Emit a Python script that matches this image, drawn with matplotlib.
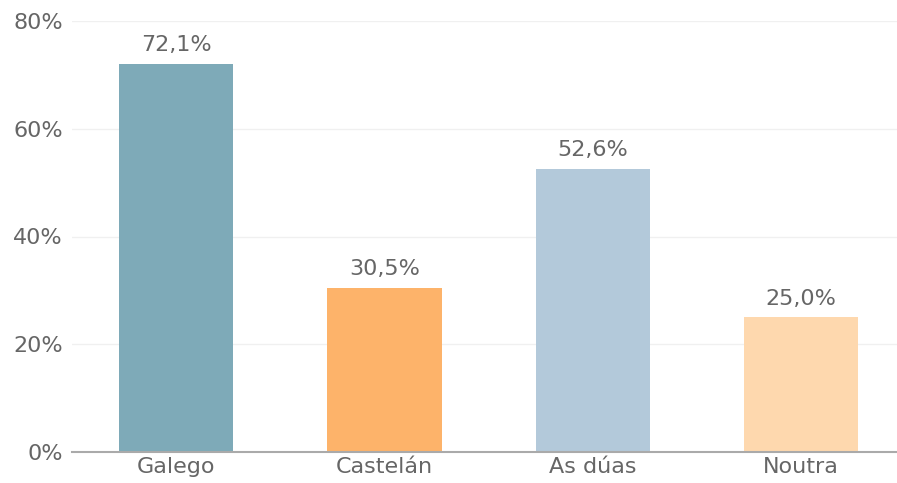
import matplotlib
matplotlib.use("Agg")
import matplotlib.pyplot as plt
import numpy as np

categories = ["Galego", "Castelán", "As dúas", "Noutra"]
values = [72.1, 30.5, 52.6, 25.0]
colors = ["#7eaab8", "#fdb36a", "#b3c9da", "#fed8ae"]
yticks = [0, 20, 40, 60, 80]

TXT = "#666666"

fig = plt.figure(figsize=(8.97, 4.83), dpi=100)
ax = fig.add_axes([72 / 897, 1 - 452 / 483, 1 - 72 / 897, (452 - 21) / 483])

x = np.arange(len(categories))
ax.bar(x, values, width=0.55, color=colors, zorder=2)
for xi, v in zip(x, values):
    ax.annotate(f"{v:.1f}%".replace(".", ","), (xi, v), xytext=(0, 13.5),
                textcoords="offset points", ha="center", va="center",
                fontsize=16, color=TXT)

ax.set_ylim(0, 80)
ax.set_xlim(-0.5, 3.46)
ax.set_yticks(yticks)
ax.set_yticklabels([f"{t}%" for t in yticks])
ax.set_xticks(x)
ax.set_xticklabels(categories)
ax.tick_params(axis="both", length=0, labelsize=16, labelcolor=TXT)
ax.tick_params(axis="y", pad=6.5)
ax.tick_params(axis="x", pad=3.5)
ax.grid(axis="y", color="#f0f0f0", lw=1, zorder=0)
for s in ["top", "right", "left"]:
    ax.spines[s].set_visible(False)
ax.spines["bottom"].set_color("#aaaaaa")
ax.spines["bottom"].set_linewidth(1.5)
ax.spines["bottom"].set_zorder(3)

plt.savefig("out.png", dpi=100)
plt.close()
